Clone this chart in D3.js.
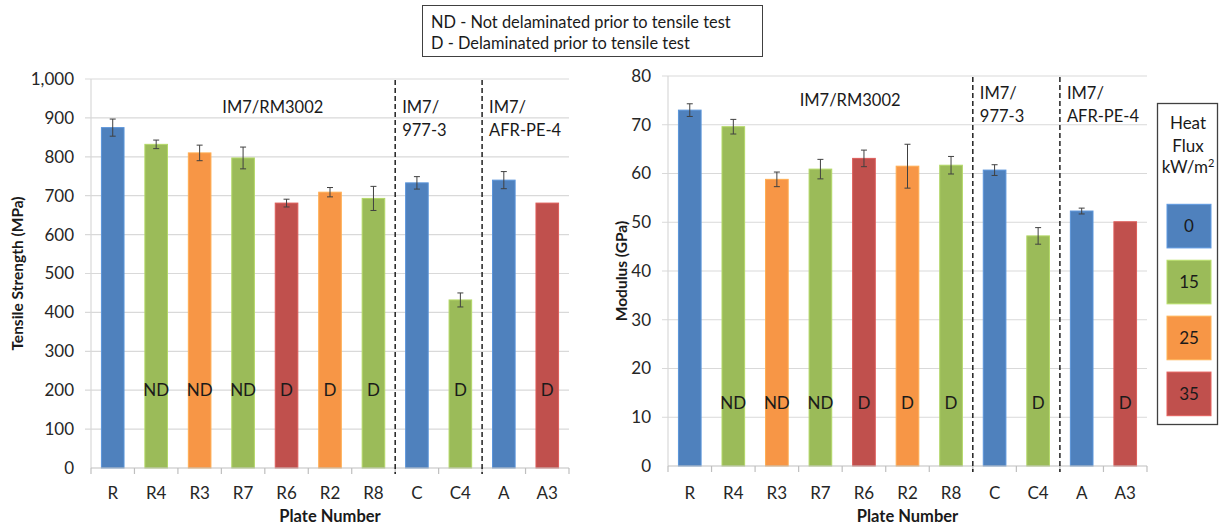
<!DOCTYPE html>
<html>
<head>
<meta charset="utf-8">
<script src="https://cdn.jsdelivr.net/npm/d3@7"></script>
<style>
  body { margin: 0; background: #fff; }
  svg { display: block; font-family: Lato, "Open Sans", sans-serif; }
</style>
</head>
<body>
<svg id="chart" width="1220" height="527"></svg>
<script>
// plate order along both x axes
var plates = ["R", "R4", "R3", "R7", "R6", "R2", "R8", "C", "C4", "A", "A3"]
// heat flux (kW/m2) each plate was exposed to
var flux = [0, 15, 25, 15, 35, 25, 15, 0, 15, 0, 35]
// delamination flag written inside the bars
var delam = ["", "ND", "ND", "ND", "D", "D", "D", "", "D", "", "D"]

var strength = [875, 832, 810, 797, 681, 709, 693, 733, 432, 740, 681]
var strengthErr = [22, 11, 20, 28, 10, 12, 31, 16, 18, 22, 0]

var modulus = [73.0, 69.6, 58.8, 60.9, 63.1, 61.5, 61.7, 60.7, 47.2, 52.3, 50.1]
var modulusErr = [1.3, 1.5, 1.5, 2.0, 1.7, 4.5, 1.8, 1.1, 1.7, 0.6, 0]

var strengthTicks = [0, 100, 200, 300, 400, 500, 600, 700, 800, 900, 1000]
var modulusTicks = [0, 10, 20, 30, 40, 50, 60, 70, 80]

var fluxLevels = [0, 15, 25, 35]
var fluxColors = ["#4F81BD", "#9BBB59", "#F79646", "#C0504D"]

// material groups, divider drawn at the first plate of each later group
var dividers = ["C", "A"]
var noteLines = ["ND - Not delaminated prior to tensile test", "D - Delaminated prior to tensile test"]

var color = d3.scaleOrdinal().domain(fluxLevels).range(fluxColors)

const svg = d3.select("#chart")

function drawPanel(p) {
    const g = svg.append("g")

    const xb = d3.scaleBand()
        .domain(plates)
        .range([p.left, p.right])
        .padding(0)

    const y = d3.scaleLinear()
        .domain([0, d3.max(p.ticks)])
        .range([p.bottom, p.top])

    const barW = xb.bandwidth() * 0.52

    // gridlines (stick out a little to the left like excel major ticks)
    g.selectAll(".grid")
        .data(p.ticks.slice(1))
        .join("line")
        .attr("x1", p.left - 6)
        .attr("x2", p.right)
        .attr("y1", d => y(d))
        .attr("y2", d => y(d))
        .attr("stroke", "#D9D9D9")
        .attr("stroke-width", 1.2)

    // y axis line
    g.append("line")
        .attr("x1", p.left).attr("x2", p.left)
        .attr("y1", y(d3.max(p.ticks))).attr("y2", p.bottom)
        .attr("stroke", "#D9D9D9")
        .attr("stroke-width", 1.2)

    // y tick labels
    g.selectAll(".ylab")
        .data(p.ticks)
        .join("text")
        .attr("x", p.left - 17)
        .attr("y", d => y(d))
        .attr("dy", "0.35em")
        .attr("text-anchor", "end")
        .attr("font-size", 17)
        .attr("fill", "#262626")
        .text(p.format)

    // bars
    g.selectAll(".bar")
        .data(plates)
        .join("rect")
        .attr("x", d => xb(d) + (xb.bandwidth() - barW) / 2)
        .attr("y", (d, i) => y(p.values[i]))
        .attr("width", barW)
        .attr("height", (d, i) => y(0) - y(p.values[i]))
        .attr("fill", (d, i) => color(flux[i]))
        .attr("stroke", (d, i) => d3.color(color(flux[i])).brighter(0.4))
        .attr("stroke-width", 1)

    // error bars
    const eb = g.selectAll(".err")
        .data(plates.filter((d, i) => p.errors[i] > 0))
        .join("g")
    eb.append("line")
        .attr("x1", d => xb(d) + xb.bandwidth() / 2)
        .attr("x2", d => xb(d) + xb.bandwidth() / 2)
        .attr("y1", d => { const i = plates.indexOf(d); return y(p.values[i] + p.errors[i]) })
        .attr("y2", d => { const i = plates.indexOf(d); return y(p.values[i] - p.errors[i]) })
    eb.append("line")
        .attr("x1", d => xb(d) + xb.bandwidth() / 2 - 3)
        .attr("x2", d => xb(d) + xb.bandwidth() / 2 + 3)
        .attr("y1", d => { const i = plates.indexOf(d); return y(p.values[i] + p.errors[i]) })
        .attr("y2", d => { const i = plates.indexOf(d); return y(p.values[i] + p.errors[i]) })
    eb.append("line")
        .attr("x1", d => xb(d) + xb.bandwidth() / 2 - 3)
        .attr("x2", d => xb(d) + xb.bandwidth() / 2 + 3)
        .attr("y1", d => { const i = plates.indexOf(d); return y(p.values[i] - p.errors[i]) })
        .attr("y2", d => { const i = plates.indexOf(d); return y(p.values[i] - p.errors[i]) })
    eb.selectAll("line")
        .attr("stroke", "#404040")
        .attr("stroke-width", 1)

    // ND / D labels
    g.selectAll(".delam")
        .data(plates.filter((d, i) => delam[i] != ""))
        .join("text")
        .attr("x", d => xb(d) + xb.bandwidth() / 2)
        .attr("y", y(p.labelAt))
        .attr("dy", "0.35em")
        .attr("text-anchor", "middle")
        .attr("font-size", 17)
        .attr("fill", "#1a1a1a")
        .text(d => delam[plates.indexOf(d)])

    // x axis line + ticks at band edges
    g.append("line")
        .attr("x1", p.left).attr("x2", p.right)
        .attr("y1", y(0)).attr("y2", y(0))
        .attr("stroke", "#BFBFBF")
        .attr("stroke-width", 1.2)
    g.selectAll(".xtick")
        .data(plates.concat(["end"]))
        .join("line")
        .attr("x1", d => d == "end" ? p.right : xb(d))
        .attr("x2", d => d == "end" ? p.right : xb(d))
        .attr("y1", y(0))
        .attr("y2", y(0) + 6)
        .attr("stroke", "#BFBFBF")
        .attr("stroke-width", 1.2)

    g.selectAll(".xlab")
        .data(plates)
        .join("text")
        .attr("x", d => xb(d) + xb.bandwidth() / 2)
        .attr("y", 493)
        .attr("dy", "0.35em")
        .attr("text-anchor", "middle")
        .attr("font-size", 17)
        .attr("fill", "#262626")
        .text(d => d)

    // dashed group dividers
    g.selectAll(".divider")
        .data(dividers)
        .join("line")
        .attr("x1", d => xb(d)).attr("x2", d => xb(d))
        .attr("y1", y(d3.max(p.ticks)) + 1)
        .attr("y2", y(0) + 6)
        .attr("stroke", "#111")
        .attr("stroke-width", 1.4)
        .attr("stroke-dasharray", "5,3")

    // group names
    g.append("text")
        .attr("x", xb("R7") + 1)
        .attr("y", p.groupY)
        .attr("dy", "0.35em")
        .attr("font-size", 16.5)
        .attr("fill", "#1a1a1a")
        .text("IM7/RM3002")
    const sub = [["C", ["IM7/", "977-3"]], ["A", ["IM7/", "AFR-PE-4"]]]
    sub.forEach(s => {
        g.selectAll(null)
            .data(s[1])
            .join("text")
            .attr("x", xb(s[0]) + 7)
            .attr("y", (d, i) => p.subY + i * 23)
            .attr("dy", "0.35em")
            .attr("font-size", 16.5)
            .attr("fill", "#1a1a1a")
            .text(d => d)
    })

    // axis titles
    g.append("text")
        .attr("transform", `translate(${p.titleX}, ${(p.top + p.bottom) / 2}) rotate(-90)`)
        .attr("dy", "0.35em")
        .attr("text-anchor", "middle")
        .attr("font-size", 15.5)
        .attr("font-weight", "bold")
        .attr("fill", "#1a1a1a")
        .text(p.title)
    g.append("text")
        .attr("x", (p.left + p.right) / 2)
        .attr("y", 516)
        .attr("dy", "0.35em")
        .attr("text-anchor", "middle")
        .attr("font-size", 16.5)
        .attr("font-weight", "bold")
        .attr("fill", "#1a1a1a")
        .text("Plate Number")
}

drawPanel({
    left: 91, right: 569, top: 79, bottom: 468,
    ticks: strengthTicks, values: strength, errors: strengthErr,
    format: d3.format(","), labelAt: 200,
    groupY: 107, subY: 107,
    title: "Tensile Strength (MPa)", titleX: 18
})

drawPanel({
    left: 668, right: 1147, top: 76, bottom: 466,
    ticks: modulusTicks, values: modulus, errors: modulusErr,
    format: d3.format("d"), labelAt: 13,
    groupY: 100, subY: 93,
    title: "Modulus (GPa)", titleX: 622
})

// note box at the top
svg.append("rect")
    .attr("x", 422.5).attr("y", 5.5)
    .attr("width", 340).attr("height", 51)
    .attr("fill", "#fff")
    .attr("stroke", "#404040")
    .attr("stroke-width", 1)
svg.selectAll(".note")
    .data(noteLines)
    .join("text")
    .attr("x", 431)
    .attr("y", (d, i) => 22 + i * 21)
    .attr("dy", "0.35em")
    .attr("font-size", 16.4)
    .attr("fill", "#1a1a1a")
    .text(d => d)

// heat flux legend
const leg = svg.append("g")
leg.append("rect")
    .attr("x", 1157.5).attr("y", 103.5)
    .attr("width", 60).attr("height", 321)
    .attr("fill", "#fff")
    .attr("stroke", "#404040")
    .attr("stroke-width", 1.3)
const head = leg.append("text")
    .attr("text-anchor", "middle")
    .attr("font-size", 17)
    .attr("fill", "#1a1a1a")
head.append("tspan").attr("x", 1188).attr("y", 129).text("Heat")
head.append("tspan").attr("x", 1188).attr("y", 152).text("Flux")
head.append("tspan").attr("x", 1188).attr("y", 173).text("kW/m")
    .append("tspan").attr("font-size", 11).attr("dy", -6).text("2")

const ly = d3.scaleBand()
    .domain(fluxLevels)
    .range([204.3, 415.7])
    .paddingInner(0.22)

leg.selectAll(".sw")
    .data(fluxLevels)
    .join("rect")
    .attr("x", 1167)
    .attr("y", d => ly(d))
    .attr("width", 44)
    .attr("height", ly.bandwidth())
    .attr("fill", d => color(d))
    .attr("stroke", d => d3.color(color(d)).brighter(0.5))
    .attr("stroke-width", 1)
leg.selectAll(".swl")
    .data(fluxLevels)
    .join("text")
    .attr("x", 1189)
    .attr("y", d => ly(d) + ly.bandwidth() / 2)
    .attr("dy", "0.35em")
    .attr("text-anchor", "middle")
    .attr("font-size", 17)
    .attr("fill", "#1a1a1a")
    .text(d => d)
</script>
</body>
</html>
